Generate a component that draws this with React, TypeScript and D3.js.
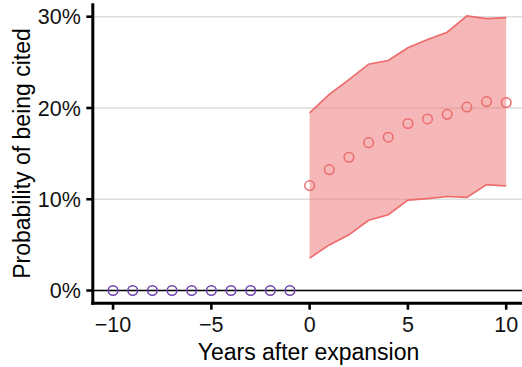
import React from "react";
import * as d3 from "d3";

const yearsBefore = [-10, -9, -8, -7, -6, -5, -4, -3, -2, -1];
const probBefore = [0, 0, 0, 0, 0, 0, 0, 0, 0, 0];
const yearsAfter = [0, 1, 2, 3, 4, 5, 6, 7, 8, 9, 10];
const probAfter = [11.5, 13.25, 14.6, 16.2, 16.8, 18.3, 18.8, 19.3, 20.1, 20.7, 20.6];
const upperAfter = [19.46, 21.5, 23.1, 24.8, 25.2, 26.6, 27.5, 28.3, 30.1, 29.8, 29.9];
const lowerAfter = [3.55, 5.0, 6.1, 7.7, 8.3, 9.9, 10.07, 10.3, 10.2, 11.6, 11.45];
const xTicks = [-10, -5, 0, 5, 10];
const xTickLabels = ["\u221210", "\u22125", "0", "5", "10"];
const yTicks = [0, 10, 20, 30];
const yTickLabels = ["0%", "10%", "20%", "30%"];
const xTitle = "Years after expansion";
const yTitle = "Probability of being cited";

const W = 522;
const H = 367;
const FONT = "'Liberation Sans', Arial, Helvetica, sans-serif";
const RED = "#EE6B6B";
const FILL = "#EB6F6F";
const PURPLE = "#6E42AE";

export default function App() {
  const x = d3.scaleLinear().domain([-11.03, 10.88]).range([92.8, 523.5]);
  const y = d3.scaleLinear().domain([-1.39, 31.47]).range([303.2, 3.3]);
  const left = x.range()[0];
  const right = x.range()[1];
  const bottom = y.range()[0];
  const top = y.range()[1];

  const idx = yearsAfter.map((_, i) => i);
  const area = d3
    .area<number>()
    .x((i) => x(yearsAfter[i]))
    .y0((i) => y(lowerAfter[i]))
    .y1((i) => y(upperAfter[i]));
  const upLine = d3
    .line<number>()
    .x((i) => x(yearsAfter[i]))
    .y((i) => y(upperAfter[i]));
  const loLine = d3
    .line<number>()
    .x((i) => x(yearsAfter[i]))
    .y((i) => y(lowerAfter[i]));

  return (
    <svg
      width={W}
      height={H}
      style={{ position: "absolute", left: 0, top: 0, background: "#fff" }}
      fontFamily={FONT}
    >
      <rect x={0} y={0} width={W} height={H} fill="#fff" />
      {yTicks.map((t) => (
        <line key={"g" + t} x1={left} x2={right} y1={y(t)} y2={y(t)} stroke="#DEDEDE" strokeWidth={1.6} />
      ))}
      <path d={area(idx) || ""} fill={FILL} fillOpacity={0.5} stroke="none" />
      <path d={upLine(idx) || ""} fill="none" stroke={RED} strokeWidth={1.7} />
      <path d={loLine(idx) || ""} fill="none" stroke={RED} strokeWidth={1.7} />
      <line x1={left} x2={right} y1={y(0)} y2={y(0)} stroke="#000" strokeWidth={1.4} />
      {yearsBefore.map((v, i) => (
        <circle key={"b" + v} cx={x(v)} cy={y(probBefore[i])} r={4.8} fill="none" stroke={PURPLE} strokeWidth={1.5} />
      ))}
      {yearsAfter.map((v, i) => (
        <circle key={"a" + v} cx={x(v)} cy={y(probAfter[i])} r={4.8} fill="none" stroke={RED} strokeWidth={1.5} />
      ))}
      <line x1={left} x2={left} y1={top} y2={bottom + 1.5} stroke="#000" strokeWidth={3} />
      <line x1={left - 1.5} x2={W} y1={bottom} y2={bottom} stroke="#000" strokeWidth={3} />
      {yTicks.map((t, i) => (
        <g key={"yt" + t}>
          <line x1={left - 6.5} x2={left} y1={y(t)} y2={y(t)} stroke="#000" strokeWidth={2.6} />
          <text x={left - 12} y={y(t)} dy="0.36em" textAnchor="end" fontSize={21.5} fill="#111">
            {yTickLabels[i]}
          </text>
        </g>
      ))}
      {xTicks.map((t, i) => (
        <g key={"xt" + t}>
          <line x1={x(t)} x2={x(t)} y1={bottom} y2={bottom + 6.5} stroke="#000" strokeWidth={2.6} />
          <text x={x(t)} y={332} textAnchor="middle" fontSize={21.5} fill="#111">
            {xTickLabels[i]}
          </text>
        </g>
      ))}
      <text x={308.5} y={360} textAnchor="middle" fontSize={23} fill="#000">
        {xTitle}
      </text>
      <text
        transform={`translate(29.5, 153.5) rotate(-90)`}
        textAnchor="middle"
        fontSize={23}
        fill="#000"
      >
        {yTitle}
      </text>
    </svg>
  );
}
